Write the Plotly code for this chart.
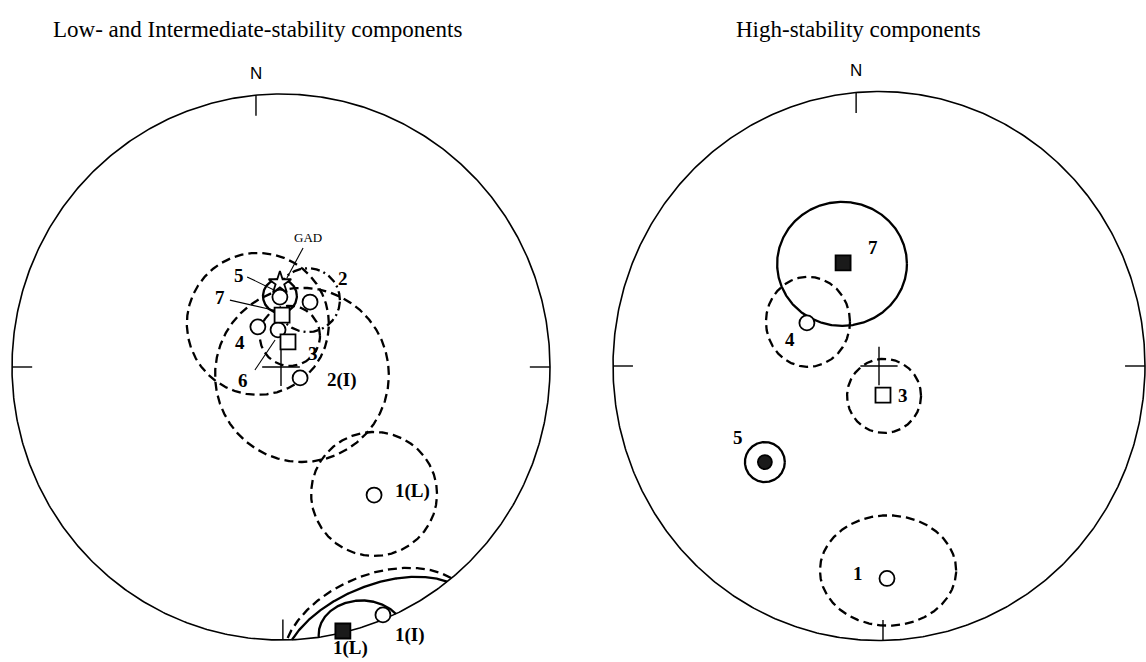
import numpy as np
import plotly.graph_objects as go

# ---------------- DATA (equal-area projected positions, unit primitive) ----------------
# Left panel: low- and intermediate-stability components
L_star_name = ["GAD"]
L_star_x = [-0.004]
L_star_y = [0.308]

L_open_circ_name = ["5", "2", "4", "6", "2(I)", "1(L)", "1(I)"]
L_open_circ_x = [-0.004, 0.108, -0.086, -0.011, 0.071, 0.346, 0.379]
L_open_circ_y = [0.256, 0.238, 0.147, 0.136, -0.040, -0.469, -0.908]

L_open_sq_name = ["7", "3"]
L_open_sq_x = [0.004, 0.026]
L_open_sq_y = [0.190, 0.092]

L_fill_sq_name = ["1(L)"]
L_fill_sq_x = [0.230]
L_fill_sq_y = [-0.967]

# confidence regions: centre, semi-axes, rotation (deg), line style
L_cone_x = [-0.086, 0.078, 0.100, 0.033, -0.004, 0.346, 0.36, 0.36, 0.30]
L_cone_y = [0.158, -0.029, 0.245, 0.114, 0.260, -0.465, -0.99, -1.00, -0.98]
L_cone_a = [0.264, 0.323, 0.119, 0.112, 0.063, 0.234, 0.37, 0.37, 0.16]
L_cone_b = [0.260, 0.319, 0.117, 0.110, 0.062, 0.227, 0.23, 0.20, 0.125]
L_cone_rot = [0, 0, 0, 0, 0, 0, 22, 22, 0]
L_cone_style = ["dash", "dash", "dashdot", "dash", "solid", "dash", "dash", "solid", "solid"]

L_label_text = ["GAD", "5", "2", "7", "4", "6", "3", "2(I)", "1(L)", "1(I)", "1(L)"]
L_label_x = [0.100, -0.156, 0.230, -0.227, -0.152, -0.141, 0.119, 0.227, 0.487, 0.480, 0.257]
L_label_y = [0.476, 0.337, 0.326, 0.256, 0.088, -0.048, 0.051, -0.048, -0.454, -0.982, -1.030]

# leader lines (from label to symbol)
L_lead_x0 = [0.082, -0.126, -0.190, -0.097]
L_lead_y0 = [0.436, 0.330, 0.245, -0.011]
L_lead_x1 = [0.022, -0.011, -0.030, -0.022]
L_lead_y1 = [0.326, 0.275, 0.209, 0.099]

# Right panel: high-stability components
R_fill_sq_name = ["7"]
R_fill_sq_x = [-0.135]
R_fill_sq_y = [0.376]

R_open_circ_name = ["4", "1"]
R_open_circ_x = [-0.271, 0.030]
R_open_circ_y = [0.157, -0.774]

R_open_sq_name = ["3"]
R_open_sq_x = [0.015]
R_open_sq_y = [-0.106]

R_fill_circ_name = ["5"]
R_fill_circ_x = [-0.429]
R_fill_circ_y = [-0.350]

R_cone_x = [-0.139, -0.267, 0.019, -0.429, 0.034]
R_cone_y = [0.372, 0.161, -0.109, -0.350, -0.745]
R_cone_a = [0.244, 0.158, 0.139, 0.075, 0.256]
R_cone_b = [0.226, 0.164, 0.135, 0.073, 0.201]
R_cone_rot = [0, 0, 0, 0, 0]
R_cone_style = ["solid", "dash", "dash", "solid", "dash"]

R_label_text = ["7", "4", "3", "5", "1"]
R_label_x = [-0.023, -0.335, 0.090, -0.530, -0.079]
R_label_y = [0.431, 0.095, -0.106, -0.259, -0.755]

# north/south tick offsets (as scanned)
north_x = {"L": -0.093, "R": -0.086}
south_x = {"L": 0.007, "R": 0.015}

titles = ["Low- and Intermediate-stability components", "High-stability components"]

# ---------------- FIGURE ----------------
W, H = 1146, 662
fig = go.Figure()
DASH = {"solid": "solid", "dash": "9px,5px", "dashdot": "9px,4px,2px,4px"}
SERIF = "Liberation Serif, Times New Roman, serif"
SANS = "Liberation Sans, Arial, sans-serif"


def add_net(xa, ya, key):
    t = np.linspace(0, 2 * np.pi, 721)
    fig.add_trace(go.Scatter(x=np.cos(t), y=np.sin(t), mode="lines", xaxis=xa, yaxis=ya,
                             line=dict(color="black", width=1.6), hoverinfo="skip"))
    nx = north_x[key]
    ny = np.sqrt(1 - nx ** 2)
    sx = south_x[key]
    sy = -np.sqrt(1 - sx ** 2)
    tl = 0.075
    xs = [nx, nx, None, sx, sx, None, -1, -1 + tl, None, 1, 1 - tl, None,
          -0.07, 0.07, None, 0, 0]
    ys = [ny, ny - tl, None, sy, sy + tl, None, 0, 0, None, 0, 0, None,
          0, 0, None, -0.07, 0.07]
    fig.add_trace(go.Scatter(x=xs, y=ys, mode="lines", xaxis=xa, yaxis=ya,
                             line=dict(color="black", width=1.4), hoverinfo="skip"))
    fig.add_annotation(x=nx, y=ny + 0.08, xref=xa, yref=ya, text="N", showarrow=False,
                       xanchor="center", yanchor="middle",
                       font=dict(family=SANS, size=17, color="black"))


def add_cones(xa, ya, cx, cy, a, b, rot, style):
    t = np.linspace(0, 2 * np.pi, 721)
    for i in range(len(cx)):
        th = np.radians(rot[i])
        x = cx[i] + a[i] * np.cos(t) * np.cos(th) - b[i] * np.sin(t) * np.sin(th)
        y = cy[i] + a[i] * np.cos(t) * np.sin(th) + b[i] * np.sin(t) * np.cos(th)
        out = x ** 2 + y ** 2 > 1.0
        x = np.where(out, np.nan, x)
        y = np.where(out, np.nan, y)
        fig.add_trace(go.Scatter(x=x, y=y, mode="lines", xaxis=xa, yaxis=ya, connectgaps=False,
                                 line=dict(color="black", width=2.3, dash=DASH[style[i]]),
                                 hoverinfo="skip"))


def add_markers(xa, ya, x, y, symbol, fill, size=15):
    fig.add_trace(go.Scatter(x=x, y=y, mode="markers", xaxis=xa, yaxis=ya,
                             marker=dict(symbol=symbol, size=size, color=fill,
                                         line=dict(color="black", width=1.8)),
                             hoverinfo="skip"))


def add_labels(xa, ya, texts, xs, ys):
    for tx, x, y in zip(texts, xs, ys):
        if tx == "GAD":
            txt, sz = "GAD", 13
        else:
            txt, sz = "<b>" + tx + "</b>", 19
        fig.add_annotation(x=x, y=y, xref=xa, yref=ya, text=txt, showarrow=False,
                           xanchor="center", yanchor="middle",
                           font=dict(family=SERIF, size=sz, color="black"))


# Left net
add_net("x", "y", "L")
add_cones("x", "y", L_cone_x, L_cone_y, L_cone_a, L_cone_b, L_cone_rot, L_cone_style)
lx, ly = [], []
for x0, y0, x1, y1 in zip(L_lead_x0, L_lead_y0, L_lead_x1, L_lead_y1):
    lx += [x0, x1, None]
    ly += [y0, y1, None]
fig.add_trace(go.Scatter(x=lx, y=ly, mode="lines", xaxis="x", yaxis="y",
                         line=dict(color="black", width=1.1), hoverinfo="skip"))
add_markers("x", "y", L_open_circ_x, L_open_circ_y, "circle", "white")
add_markers("x", "y", L_open_sq_x, L_open_sq_y, "square", "white", 15)
add_markers("x", "y", L_fill_sq_x, L_fill_sq_y, "square", "#1a1a1a", 15)
add_markers("x", "y", L_star_x, L_star_y, "star", "white", 17)
add_labels("x", "y", L_label_text, L_label_x, L_label_y)

# Right net
add_net("x2", "y2", "R")
add_cones("x2", "y2", R_cone_x, R_cone_y, R_cone_a, R_cone_b, R_cone_rot, R_cone_style)
add_markers("x2", "y2", R_open_circ_x, R_open_circ_y, "circle", "white")
add_markers("x2", "y2", R_open_sq_x, R_open_sq_y, "square", "white", 15)
add_markers("x2", "y2", R_fill_sq_x, R_fill_sq_y, "square", "#1a1a1a", 15)
add_markers("x2", "y2", R_fill_circ_x, R_fill_circ_y, "circle", "#1a1a1a", 14)
add_labels("x2", "y2", R_label_text, R_label_x, R_label_y)

# titles
for tx, px in zip(titles, [257, 858]):
    fig.add_annotation(x=px / W, y=1 - 30 / H, xref="paper", yref="paper", text=tx,
                       showarrow=False, xanchor="center", yanchor="middle",
                       font=dict(family=SERIF, size=23, color="black"))

# axes placed so the primitive circles sit where they are in the original
Lcx, Lcy, Lrx, Lry = 281, 367, 269, 273
Rcx, Rcy, Rrx, Rry = 879, 366, 266, 274.5
ax = dict(visible=False, showgrid=False, zeroline=False, fixedrange=True)
fig.update_layout(
    width=W, height=H, autosize=False, showlegend=False,
    margin=dict(l=0, r=0, t=0, b=0),
    paper_bgcolor="white", plot_bgcolor="white",
    xaxis=dict(domain=[0, 0.5], range=[(0 - Lcx) / Lrx, (573 - Lcx) / Lrx], **ax),
    yaxis=dict(domain=[0, 1], range=[(Lcy - H) / Lry, Lcy / Lry], **ax),
    xaxis2=dict(domain=[0.5, 1], range=[(573 - Rcx) / Rrx, (W - Rcx) / Rrx], anchor="y2", **ax),
    yaxis2=dict(domain=[0, 1], range=[(Rcy - H) / Rry, Rcy / Rry], anchor="x2", **ax),
)

fig.write_html("out.html")
